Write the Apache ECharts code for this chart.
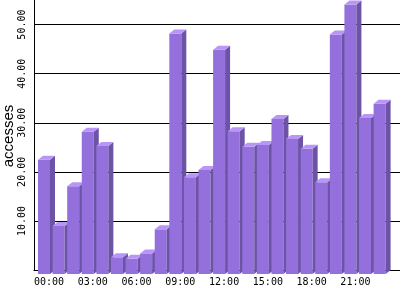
<!DOCTYPE html>
<html>
<head>
<meta charset="utf-8">
<script src="https://cdn.jsdelivr.net/npm/echarts@6/dist/echarts.min.js"></script>
<style>
html,body{margin:0;padding:0;background:#fff;}
#chart{width:400px;height:300px;}
</style>
</head>
<body>
<div id="chart"></div>
<script>
const hours = ['00:00','01:00','02:00','03:00','04:00','05:00','06:00','07:00','08:00','09:00','10:00','11:00',
               '12:00','13:00','14:00','15:00','16:00','17:00','18:00','19:00','20:00','21:00','22:00','23:00'];
const accesses = [23.3, 9.8, 17.9, 29.0, 26.1, 3.4, 3.1, 4.2, 9.1, 49.0, 19.7, 21.2,
                  45.7, 29.1, 25.9, 26.3, 31.6, 27.5, 25.5, 18.7, 48.8, 54.9, 31.8, 34.7];
const yTitle = 'accesses';
const yMin = 0, yMax = 60, yStep = 10;

const FRONT = '#9370DB', SIDE = '#6C53A6', TOP = '#B995F7';
const chart = echarts.init(document.getElementById('chart'), null, {renderer: 'canvas'});

function renderBar(params, api) {
  const top = api.coord([api.value(0), api.value(1)]);
  const base = api.coord([api.value(0), 0]);
  const cx = top[0], ty = top[1], by = base[1];
  const hw = 6, dx = 5, dy = 4;
  const fl = cx - hw - dx, fr = cx + hw - dx;
  return {
    type: 'group',
    children: [
      {type: 'rect', shape: {x: fl, y: ty + dy, width: 2 * hw, height: by - ty}, style: {fill: FRONT}},
      {type: 'polygon', shape: {points: [[fr, ty + dy], [cx + hw, ty], [cx + hw, by], [fr, by + dy]]}, style: {fill: SIDE}},
      {type: 'polygon', shape: {points: [[fl, ty + dy], [cx - hw, ty], [cx + hw, ty], [fr, ty + dy]]}, style: {fill: TOP}}
    ]
  };
}

chart.setOption({
  animation: false,
  backgroundColor: '#fff',
  grid: [
    {left: 34, right: 0, top: -24.5, bottom: 30, containLabel: false, outerBoundsMode: 'none'},
    {left: 41.7, right: 8.1, top: -24.5, bottom: 30, containLabel: false, outerBoundsMode: 'none'}
  ],
  graphic: [{
    type: 'text', x: 9, y: 136, rotation: Math.PI / 2,
    style: {text: yTitle, fill: '#000', font: '15px "Liberation Sans"', align: 'center', verticalAlign: 'middle'}
  }],
  xAxis: [
    {type: 'category', gridIndex: 0, data: hours, boundaryGap: true,
     axisLine: {show: true, lineStyle: {color: '#000', width: 1}},
     axisTick: {show: false}, axisLabel: {show: false}, splitLine: {show: false}},
    {type: 'category', gridIndex: 1, data: hours,
     axisLine: {show: false}, axisTick: {show: false}, splitLine: {show: false},
     axisLabel: {interval: 2, margin: 7, color: '#000', fontFamily: 'DejaVu Sans Mono', fontSize: 10}}
  ],
  yAxis: [
    {type: 'value', gridIndex: 0, min: yMin, max: yMax, interval: yStep,
     axisLine: {show: true, lineStyle: {color: '#000', width: 1}},
     axisTick: {show: false},
     splitLine: {show: true, lineStyle: {color: '#000', width: 1}},
     axisLabel: {rotate: 90, margin: 7, color: '#000', fontFamily: 'DejaVu Sans Mono', fontSize: 10,
                 formatter: v => v === 0 ? '' : v.toFixed(2)}},
    {type: 'value', gridIndex: 1, min: yMin, max: yMax, interval: yStep, show: false}
  ],
  series: [{
    type: 'custom', xAxisIndex: 1, yAxisIndex: 1,
    renderItem: renderBar,
    encode: {x: 0, y: 1},
    data: hours.map((h, i) => [i, accesses[i]])
  }]
});
</script>
</body>
</html>
